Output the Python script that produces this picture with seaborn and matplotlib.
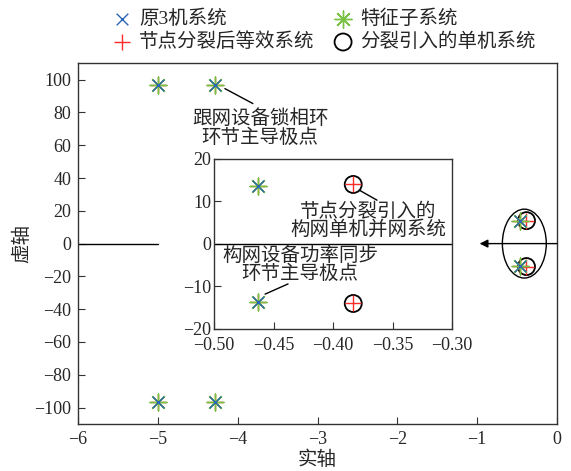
"""Pole map: original 3-machine system vs. node-split equivalent system."""
import matplotlib
matplotlib.use("Agg")
import matplotlib.pyplot as plt
from matplotlib.patches import Ellipse
import seaborn as sns

orig_re = [-5.0, -5.0, -4.28, -4.28, -0.463, -0.463]
orig_im = [96.5, -96.5, 96.5, -96.5, 13.7, -13.7]
sub_re = [-5.0, -5.0, -4.28, -4.28, -0.463, -0.463]
sub_im = [96.5, -96.5, 96.5, -96.5, 13.7, -13.7]
split_re = [-5.0, -5.0, -4.28, -4.28, -0.463, -0.463, -0.383, -0.383]
split_im = [96.5, -96.5, 96.5, -96.5, 13.7, -13.7, 14.0, -14.0]
single_re = [-0.383, -0.383]
single_im = [14.0, -14.0]

labels = ["原3机系统", "节点分裂后等效系统", "特征子系统", "分裂引入的单机系统"]
x_ticks = [-6, -5, -4, -3, -2, -1, 0]
y_ticks = [-100, -80, -60, -40, -20, 0, 20, 40, 60, 80, 100]
inset_x_ticks = [-0.5, -0.45, -0.4, -0.35, -0.3]
inset_y_ticks = [-20, -10, 0, 10, 20]

BLUE = "#2a64b4"
GREEN = "#79c142"
RED = "#ff2a2a"

sns.set_style("white")
plt.rcParams["font.family"] = ["Liberation Serif", "Noto Sans CJK SC"]
plt.rcParams["axes.unicode_minus"] = True
plt.rcParams["xtick.direction"] = "in"
plt.rcParams["ytick.direction"] = "in"

fig = plt.figure(figsize=(5.71, 4.71), dpi=100)
ax = fig.add_axes([0.1366, 0.0998, 0.839, 0.766])
ins = fig.add_axes([0.3748, 0.3015, 0.4168, 0.361])


def draw_poles(a, big=True):
    k = 1.0 if big else 0.9
    sns.scatterplot(x=split_re, y=split_im, ax=a, marker="+", s=130 * k,
                    color=RED, linewidth=1.0, label=labels[1], zorder=3)
    sns.scatterplot(x=sub_re, y=sub_im, ax=a, marker=(8, 2, 0), s=150 * k,
                    color=GREEN, linewidth=1.0, label=labels[2], zorder=4)
    sns.scatterplot(x=orig_re, y=orig_im, ax=a, marker="x", s=70 * k,
                    color=BLUE, linewidth=1.0, label=labels[0], zorder=5)
    sns.scatterplot(x=single_re, y=single_im, ax=a, marker="o", s=150 * k,
                    facecolor="none", edgecolor="black", linewidth=1.3,
                    label=labels[3], zorder=2)


draw_poles(ax)
draw_poles(ins)
ax.get_legend().remove()
ins.get_legend().remove()

# main axes
ax.set_xlim(-6, 0)
ax.set_ylim(-110, 110)
ax.set_xticks(x_ticks)
ax.set_yticks(y_ticks)
ax.set_xlabel("实轴", fontsize=14, labelpad=2)
ax.set_ylabel("虚轴", fontsize=14, labelpad=2)
ax.tick_params(labelsize=13, length=5, width=0.8, color="#333333", pad=5)
ax.axhline(0, xmax=1 / 6, color="black", lw=1.0, zorder=1)
ax.annotate("", xy=(-0.97, 0), xytext=(0, 0),
            arrowprops=dict(arrowstyle="-|>", color="black", lw=1.0,
                            mutation_scale=12, shrinkA=0, shrinkB=0))
ax.add_patch(Ellipse((-0.41, 0), 0.55, 42, fill=False, ec="black", lw=1.0))
ax.text(-3.72, 70.5, "跟网设备锁相环\n环节主导极点", ha="center", va="center",
        fontsize=14, linespacing=1.0)
ax.annotate("", xy=(-4.16, 94.5), xytext=(-3.81, 85.4),
            arrowprops=dict(arrowstyle="-", color="black", lw=1.0,
                            shrinkA=0, shrinkB=0))

# inset
ins.set_zorder(3)
ins.set_xlim(-0.5, -0.3)
ins.set_ylim(-20, 20)
ins.set_xticks(inset_x_ticks)
ins.set_yticks(inset_y_ticks)
ins.set_xticklabels([f"{v:.2f}".replace("-", "\u2212") for v in inset_x_ticks])
ins.tick_params(labelsize=13, length=5, width=0.8, color="#333333", pad=2)
ins.tick_params(axis="x", pad=5.5)
ins.axhline(0, color="black", lw=1.0, zorder=1)
ins.text(-0.3706, 5.4, "节点分裂引入的\n构网单机并网系统", ha="center",
         va="center", fontsize=14, linespacing=0.95)
ins.annotate("", xy=(-0.3775, 12.6), xytext=(-0.363, 10.3),
             arrowprops=dict(arrowstyle="-", color="black", lw=1.0,
                             shrinkA=0, shrinkB=0))
ins.text(-0.4277, -4.9, "构网设备功率同步\n环节主导极点", ha="center",
         va="center", fontsize=14, linespacing=0.95)
ins.annotate("", xy=(-0.4571, -11.8), xytext=(-0.4378, -9.4),
             arrowprops=dict(arrowstyle="-", color="black", lw=1.0,
                             shrinkA=0, shrinkB=0))

for a in (ax, ins):
    for sp in a.spines.values():
        sp.set_color("#333333")
        sp.set_linewidth(1.0)
        sp.set_visible(True)
    a.tick_params(top=False, right=False, bottom=True, left=True)

# legend above the axes, two columns
handles, leg_labels = ax.get_legend_handles_labels()
order = [leg_labels.index(l) for l in labels]
fig.legend([handles[i] for i in order], [leg_labels[i] for i in order],
           loc="upper left", bbox_to_anchor=(0.176, 1.005), ncol=2,
           frameon=False, fontsize=14, handlelength=1.0, handletextpad=0.4,
           columnspacing=0.95, labelspacing=0.25, borderaxespad=0.2)

fig.savefig("out.png", dpi=100)
